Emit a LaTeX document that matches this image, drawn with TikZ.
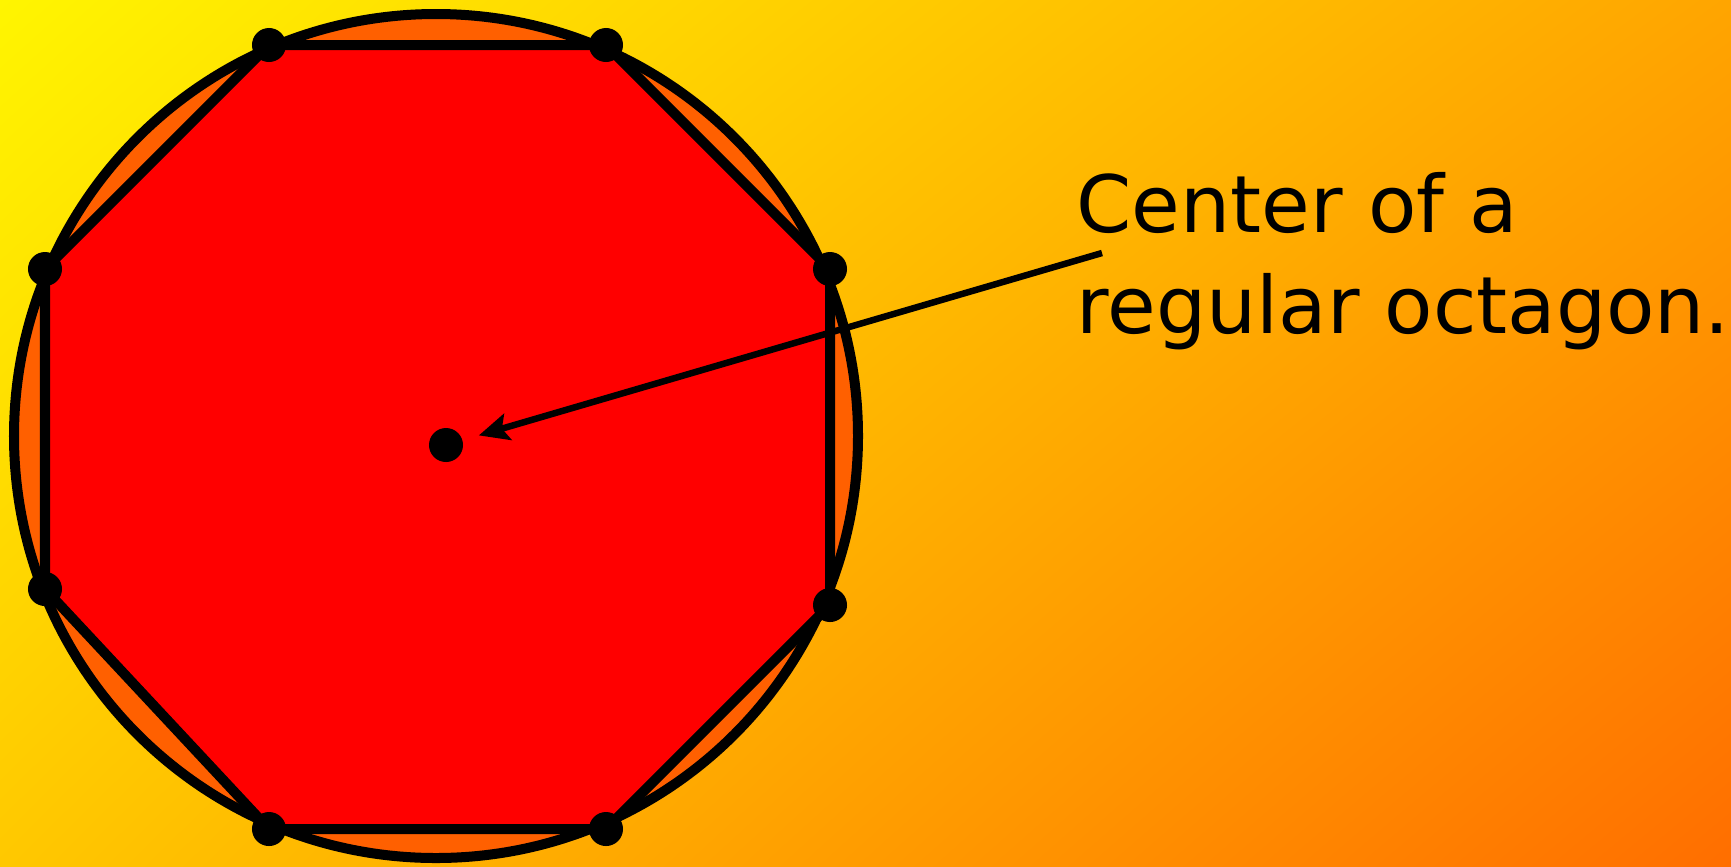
\documentclass[tikz,border=0pt]{standalone}
\usepackage{fontspec}
\setmainfont{DejaVu Sans}
\usepackage{xcolor}
\usetikzlibrary{arrows.meta, positioning, calc, shadings}

\definecolor{bgTL}{RGB}{255,245,0}
\definecolor{bgTR}{RGB}{255,165,0}
\definecolor{bgBL}{RGB}{255,200,0}
\definecolor{bgBR}{RGB}{255,110,0}
\definecolor{segorange}{RGB}{255,96,0}
\definecolor{octred}{RGB}{255,0,0}

\tikzset{
  vertexdot/.style={circle, fill=black, inner sep=0pt, minimum size=0.34cm},
  centerdot/.style={circle, fill=black, inner sep=0pt, minimum size=0.34cm},
  thickline/.style={line width=0.10cm, draw=black},
  pointer/.style={line width=0.065cm, -{Stealth[length=0.3cm, width=0.27cm, inset=0.06cm]}}
}

\begin{document}
\begin{tikzpicture}[x=0.01cm, y=-0.01cm, every node/.style={font=\fontsize{22.5}{28.7}\selectfont}]
  % Background gradient
  \shade[upper left=bgTL, upper right=bgTR, lower left=bgBL, lower right=bgBR]
    (0,0) rectangle (1731,866);
  \useasboundingbox (0,0) rectangle (1731,866);
  % Circumscribed circle
  \draw[thickline, fill=segorange] (436,436) circle (422);
  % Octagon vertices
  \coordinate (p1) at (269,45);
  \coordinate (p2) at (606,45);
  \coordinate (p3) at (830,269);
  \coordinate (p4) at (830,605);
  \coordinate (p5) at (606,829);
  \coordinate (p6) at (269,829);
  \coordinate (p7) at (45,589);
  \coordinate (p8) at (45,269);
  % Octagon
  \draw[thickline, fill=octred, line join=round]
    (p1) -- (p2) -- (p3) -- (p4) -- (p5) -- (p6) -- (p7) -- (p8) -- cycle;
  \foreach \i in {1,...,8} {
    \node[vertexdot] (v\i) at (p\i) {};
  }
  % Center
  \node[centerdot] (ctr) at (446,445) {};
  % Label
  \node[anchor=base west, align=left, inner sep=0pt] (lbl) at (1076,333)
    {Center of a\\regular octagon.};
  \coordinate (tail) at (1102,253);
  \draw[pointer] (tail) -- ($(ctr)!0.05!(tail)$);
\end{tikzpicture}
\end{document}
